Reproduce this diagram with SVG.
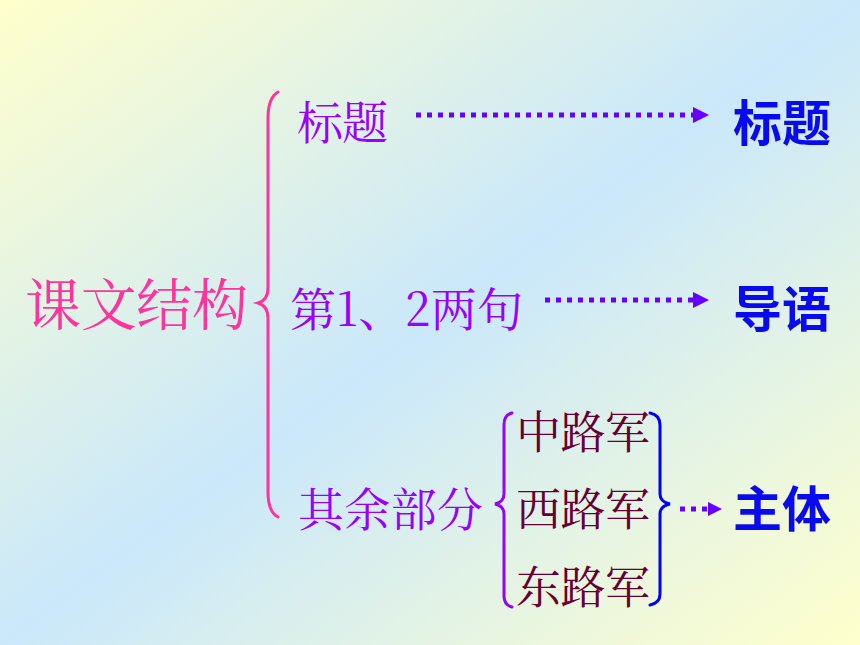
<svg xmlns="http://www.w3.org/2000/svg" width="860" height="645" viewBox="0 0 860 645">
<defs>
<linearGradient id="bg" x1="0" y1="0" x2="1" y2="1">
<stop offset="0" stop-color="#FFFFCC"/>
<stop offset="0.5" stop-color="#CAE8FB"/>
<stop offset="1" stop-color="#FFFFCC"/>
</linearGradient>
<style>
.serif{font-family:"Noto Serif CJK SC","Noto Sans CJK SC",serif;}
.bold{font-family:"Noto Sans CJK SC","Noto Sans CJK TC",sans-serif;font-weight:700;fill:#0A0AEE;font-size:49px;}
.pink{fill:#FF3399;font-size:56px;}
.purple{fill:#9900FF;font-size:46px;}
.maroon{fill:#660033;font-size:45px;}
.dots{stroke:#6600FF;stroke-width:5;stroke-dasharray:5 6;fill:none;}
.head{fill:#6600FF;}
.brace{fill:none;stroke-width:3;stroke-linecap:round;}
</style>
</defs>
<rect width="860" height="645" fill="url(#bg)"/>
<g id="root"><text class="serif pink" x="25" y="325" textLength="223">课文结构</text></g>
<g id="title-src"><text class="serif purple" x="297" y="139" textLength="91">标题</text></g>
<g id="lead-src"><text class="serif purple" x="290" y="326" textLength="233">第1、2两句</text></g>
<g id="rest-src"><text class="serif purple" x="298" y="526" textLength="185">其余部分</text></g>
<g id="mid"><text class="serif maroon" x="516" y="449" textLength="134">中路军</text></g>
<g id="west"><text class="serif maroon" x="516" y="526" textLength="134">西路军</text></g>
<g id="east"><text class="serif maroon" x="516" y="604" textLength="134">东路军</text></g>
<g id="title"><text class="bold" x="733" y="141">标题</text></g>
<g id="lead"><text class="bold" x="733" y="327">导语</text></g>
<g id="body"><text class="bold" x="733" y="527">主体</text></g>
<g id="connectors">
<path class="brace" stroke="#FF3399" d="M278,92 Q268,98 268,118 L268,288 Q268,300 258,303 Q268,306 268,318 L268,492 Q268,512 278,517"/>
<path class="brace" stroke="#9900FF" d="M512,413 Q504,415 504,425 L504,494 Q504,502 495,504 Q504,506 504,514 L504,596 Q504,605 512,607"/>
<path class="brace" stroke="#0000FF" d="M650,413 Q660,415 660,425 L660,494 Q660,502 670,504 Q660,506 660,514 L660,594 Q660,603 650,605"/>
<line class="dots" x1="416" y1="115" x2="693" y2="115"/>
<polygon class="head" points="693,107 709,115 693,123"/>
<line class="dots" x1="545" y1="300" x2="693" y2="300"/>
<polygon class="head" points="693,292 709,300 693,308"/>
<line class="dots" x1="680" y1="509" x2="708" y2="509"/>
<polygon class="head" points="708,502 722,509 708,516"/>
</g>
</svg>
